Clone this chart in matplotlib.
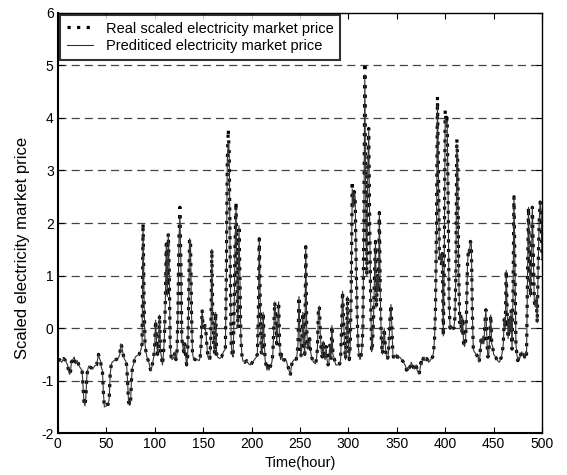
import numpy as np
import matplotlib
matplotlib.use("Agg")
import matplotlib.pyplot as plt

plt.rcParams['font.family'] = ['Liberation Sans', 'DejaVu Sans']
plt.rcParams['axes.unicode_minus'] = False

# (hour, scaled price)
real_points = [
    (0, -0.62), (2, -0.6), (4, -0.65), (6, -0.58), (8, -0.62), (10, -0.7), (11, -0.8),
    (12, -0.88), (13, -0.85), (14, -0.65), (16, -0.58), (17, -0.55), (18, -0.68),
    (20, -0.62), (22, -0.72), (24, -0.78), (25, -0.8), (26, -1.1), (27, -1.4),
    (28, -1.48), (29, -1.3), (30, -0.9), (31, -0.78), (32, -0.72), (34, -0.75),
    (36, -0.78), (38, -0.72), (40, -0.7), (41, -0.6), (42, -0.5), (43, -0.58),
    (44, -0.62), (45, -0.75), (46, -0.8), (47, -1.2), (48, -1.5), (50, -1.48),
    (51, -1.45), (52, -1.45), (53, -1.35), (54, -0.9), (55, -0.72), (56, -0.65),
    (58, -0.62), (60, -0.6), (62, -0.58), (63, -0.55), (64, -0.5), (65, -0.3),
    (66, -0.35), (67, -0.45), (68, -0.55), (69, -0.6), (70, -0.62), (71, -0.7),
    (72, -1.0), (73, -1.4), (74, -1.47), (75, -1.45), (76, -1.0), (77, -0.75),
    (78, -0.7), (80, -0.55), (82, -0.52), (84, -0.5), (85, -0.45), (86, -0.4),
    (87, -0.3), (88, 2.0), (89, 0.6), (90, -0.3), (91, -0.45), (92, -0.55),
    (94, -0.65), (96, -0.82), (97, -0.75), (99, -0.55), (100, -0.35), (101, 0.15),
    (102, -0.3), (103, -0.5), (104, -0.35), (105, 0.25), (106, -0.45), (107, -0.55),
    (108, -0.7), (109, -0.5), (110, -0.2), (111, 0.5), (112, 1.6), (113, 0.6),
    (114, 1.8), (115, 1.1), (116, -0.3), (117, -0.55), (118, -0.6), (120, -0.55),
    (121, -0.45), (122, -0.6), (123, -0.5), (124, 0.3), (125, 1.6), (126, 2.3),
    (127, 1.3), (128, -0.2), (129, -0.35), (130, -0.45), (131, -0.3), (132, -0.55),
    (133, -0.7), (134, -0.55), (135, 0.4), (136, 1.7), (137, 1.65), (138, 0.3),
    (139, -0.45), (140, -0.58), (142, -0.6), (144, -0.6), (146, -0.62), (147, -0.55),
    (148, -0.3), (149, 0.35), (150, 0.0), (151, 0.0), (152, 0.05), (153, -0.1),
    (154, -0.35), (155, -0.55), (156, -0.6), (157, -0.58), (158, -0.2), (159, 1.5),
    (160, 0.2), (161, -0.3), (162, -0.5), (163, 0.3), (164, -0.5), (165, -0.55),
    (167, -0.58), (169, -0.55), (171, -0.45), (173, -0.4), (174, 1.0), (175, 3.2),
    (176, 3.78), (177, 3.3), (178, 1.2), (179, -0.3), (180, -0.5), (181, -0.55),
    (182, 0.3), (183, 1.6), (184, 2.4), (185, 0.8), (186, 0.0), (187, 1.95),
    (188, 1.0), (189, -0.2), (190, -0.5), (191, -0.62), (193, -0.65), (195, -0.62),
    (197, -0.68), (199, -0.7), (201, -0.65), (203, -0.6), (205, -0.55), (206, -0.5),
    (207, 0.2), (208, 1.7), (209, 0.5), (210, -0.45), (211, -0.5), (212, 0.3),
    (213, -0.2), (214, -0.6), (215, -0.7), (216, -0.8), (217, -0.72), (218, -0.8),
    (219, -0.75), (220, -0.7), (221, -0.65), (222, -0.5), (223, 0.0), (224, 0.5),
    (225, 0.2), (226, -0.3), (227, 0.1), (228, 0.5), (229, -0.3), (230, -0.6),
    (231, -0.5), (232, -0.62), (234, -0.6), (236, -0.62), (237, -0.7), (238, -0.75),
    (239, -0.82), (240, -0.9), (241, -0.75), (242, -0.65), (244, -0.6), (246, -0.62),
    (247, -0.5), (248, -0.3), (249, 0.6), (250, -0.2), (251, -0.55), (252, -0.3),
    (253, 0.3), (254, -0.3), (255, -0.5), (256, 1.55), (257, 0.0), (258, -0.4),
    (259, -0.3), (260, -0.2), (261, -0.45), (262, -0.55), (264, -0.65), (266, -0.68),
    (267, -0.6), (268, -0.4), (269, 0.3), (270, 0.42), (271, -0.1), (272, -0.45),
    (273, -0.55), (274, -0.25), (275, -0.55), (276, -0.6), (277, -0.35), (278, -0.6),
    (279, -0.7), (280, -0.65), (281, -0.3), (282, -0.6), (283, 0.05), (284, -0.5),
    (285, -0.55), (287, -0.7), (289, -0.7), (291, -0.68), (292, -0.6), (293, 0.0),
    (294, 0.7), (295, 0.2), (296, -0.3), (297, -0.6), (298, -0.4), (299, 0.6),
    (300, -0.3), (301, -0.6), (302, -0.3), (303, 0.8), (304, 2.8), (305, 2.3),
    (306, 2.6), (307, 2.5), (308, 1.3), (309, 0.3), (310, -0.3), (311, -0.5),
    (312, -0.6), (313, -0.55), (314, -0.4), (315, 0.0), (316, 2.0), (317, 5.05),
    (318, 2.2), (319, 1.0), (320, 3.0), (321, 3.8), (322, 2.0), (323, 0.6),
    (324, -0.45), (325, -0.3), (326, 0.2), (327, 1.0), (328, 1.65), (329, 0.4),
    (330, 1.0), (331, 0.7), (332, 2.2), (333, 0.6), (334, -0.2), (335, -0.5),
    (336, -0.35), (337, 0.0), (338, -0.3), (339, -0.5), (340, -0.6), (341, -0.55),
    (342, -0.3), (343, 0.2), (344, 0.45), (345, 0.0), (346, -0.5), (347, -0.58),
    (348, -0.55), (350, -0.5), (351, -0.58), (353, -0.55), (355, -0.6), (357, -0.65),
    (359, -0.72), (360, -0.8), (361, -0.75), (362, -0.8), (364, -0.72), (365, -0.65),
    (366, -0.7), (368, -0.78), (370, -0.7), (371, -0.8), (373, -0.88), (374, -0.78),
    (375, -0.65), (376, -0.7), (377, -0.6), (378, -0.55), (379, -0.62), (381, -0.58),
    (383, -0.65), (385, -0.6), (387, -0.55), (388, -0.45), (389, -0.2), (390, 0.4),
    (391, 2.0), (392, 4.4), (393, 3.0), (394, 1.3), (395, 1.4), (396, 1.2),
    (397, 1.42), (398, -0.15), (399, 1.2), (400, 4.15), (401, 3.9), (402, 4.0),
    (403, 2.5), (404, 0.5), (405, 0.0), (406, 0.05), (407, -0.02), (408, 0.0),
    (409, 0.0), (410, 0.2), (411, 1.0), (412, 3.6), (413, 3.1), (414, 1.0),
    (415, 0.1), (416, 0.25), (417, -0.1), (418, 0.2), (419, -0.3), (420, -0.35),
    (421, -0.25), (422, 0.3), (423, 1.2), (424, 1.5), (425, 1.45), (426, 1.65),
    (427, 1.6), (428, 0.3), (429, -0.4), (430, -0.45), (432, -0.5), (434, -0.55),
    (435, -0.65), (436, -0.5), (437, -0.2), (438, -0.3), (439, -0.15), (440, -0.3),
    (441, 0.1), (442, 0.35), (443, -0.2), (444, -0.55), (445, -0.5), (446, -0.1),
    (447, 0.25), (448, -0.3), (449, -0.35), (450, -0.5), (452, -0.55), (454, -0.62),
    (456, -0.65), (458, -0.55), (459, -0.45), (460, -0.3), (461, 0.2), (462, 0.0),
    (463, 1.1), (464, 0.3), (465, -0.2), (466, 0.2), (467, -0.1), (468, 0.35),
    (469, -0.4), (470, 0.6), (471, 2.5), (472, 1.2), (473, -0.3), (474, -0.5),
    (475, -0.62), (476, -0.55), (477, -0.58), (478, -0.5), (479, -0.45), (480, -0.5),
    (481, -0.48), (482, -0.55), (483, -0.45), (484, -0.5), (485, 1.0), (486, 2.3),
    (487, 1.3), (488, 0.6), (489, 1.2), (490, 2.3), (491, 1.4), (492, 0.5),
    (493, 0.4), (494, 0.6), (495, 0.1), (496, 1.2), (497, 2.0), (498, 2.4),
    (499, 2.2), (500, 1.3),
]

# where the prediction undershoots the real peaks
pred_peaks = {88: 1.9, 126: 2.15, 176: 3.55, 184: 2.3, 304: 2.65, 317: 4.82,
              321: 3.75, 392: 4.25, 400: 4.0, 402: 3.95, 412: 3.5}

hours = np.array([p[0] for p in real_points], dtype=float)
real_price = np.array([p[1] for p in real_points])
pred_price = np.array([pred_peaks.get(int(h), v) for h, v in real_points])

fig = plt.figure(figsize=(5.67, 4.75), dpi=100)
ax = fig.add_axes([0.102, 0.088, 0.854, 0.885])

ax.plot(hours, real_price, color='black', lw=2.3, linestyle=(0, (1, 2.0)),
        label='Real scaled electricity market price')
ax.plot(hours, pred_price, color='#333333', lw=0.8,
        label='Prediticed electricity market price')

ax.set_xlim(0, 500)
ax.set_ylim(-2, 6)
ax.set_xticks(np.arange(0, 501, 50))
ax.set_yticks(np.arange(-2, 7, 1))
for y in range(-1, 6):
    ax.axhline(y, color='#444444', lw=0.9, linestyle=(0, (6.5, 4)), zorder=0)

ax.tick_params(direction='in', top=True, right=True, length=4, labelsize=10, pad=3)
for side in ['left', 'bottom']:
    ax.spines[side].set_linewidth(1.5)
for side in ['top', 'right']:
    ax.spines[side].set_linewidth(1.0)

ax.set_xlabel('Time(hour)', fontsize=10.5, labelpad=3)
ax.set_ylabel('Scaled electricity market price', fontsize=12)
ax.yaxis.set_label_coords(-0.058, 0.44)

leg = ax.legend(loc='upper left', fontsize=10.5, frameon=True, fancybox=False,
                borderaxespad=0.15, handlelength=1.8, borderpad=0.45,
                labelspacing=0.25, handletextpad=0.9)
leg.get_frame().set_edgecolor('black')
leg.get_frame().set_linewidth(1.5)

fig.savefig('out.png', dpi=100)
